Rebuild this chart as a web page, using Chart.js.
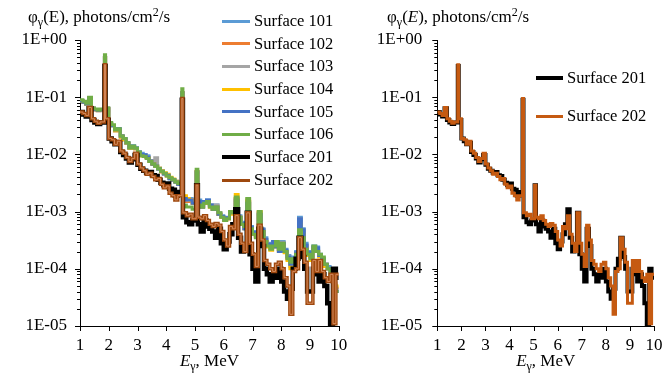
<!DOCTYPE html>
<html><head><meta charset="utf-8">
<script src="https://cdn.jsdelivr.net/npm/chart.js@4"></script>
<style>
html,body{margin:0;padding:0;background:#fff;overflow:hidden;}
body{width:662px;height:373px;position:relative;overflow:hidden;font-family:"Liberation Serif","Times New Roman",serif;color:#000;}
canvas{position:absolute;top:0;}
#c1{left:0;width:364px;height:373px;}
#c2{left:345px;width:345px;height:373px;}
.t{position:absolute;font-size:17px;white-space:nowrap;line-height:17px;}
.sb{font-size:12px;position:relative;top:4px;}
.sp{font-size:12px;position:relative;top:-6px;}
.lgt{position:absolute;font-size:16.5px;white-space:nowrap;line-height:16px;}
.lgl{position:absolute;}
</style></head>
<body>
<canvas id="c1" width="364" height="373"></canvas>
<canvas id="c2" width="345" height="373"></canvas>
<div class="t" style="left:28px;top:8px;">φ<span class="sb">γ</span>(E), photons/cm<span class="sp">2</span>/s</div>
<div class="t" style="left:387px;top:8px;">φ<span class="sb">γ</span>(<i>E</i>), photons/cm<span class="sp">2</span>/s</div>
<div class="t" id="xt1" style="top:352px;"><i>E</i><span class="sb">γ</span>, MeV</div>
<div class="t" id="xt2" style="top:352px;"><i>E</i><span class="sb">γ</span>, MeV</div>
<script>
// ---- data ----  (bin start energies, MeV; narrow bins hold the line peaks)
const energy = [1.0,1.1,1.2,1.3,1.4,1.5,1.6,1.7,1.85,1.89,
2.0,2.1,2.2,2.3,2.4,2.5,2.6,2.7,2.8,2.9,
3.0,3.1,3.2,3.3,3.4,3.5,3.6,3.7,3.8,3.9,
4.0,4.1,4.2,4.3,4.4,4.54,4.58,4.7,4.8,4.9,
5.04,5.1,5.2,5.3,5.4,5.5,5.6,5.7,5.8,5.9,
6.0,6.1,6.2,6.3,6.4,6.5,6.6,6.7,6.8,6.9,
7.0,7.1,7.2,7.3,7.4,7.5,7.6,7.7,7.8,7.9,
8.0,8.1,8.2,8.3,8.4,8.5,8.6,8.7,8.8,8.9,
9.0,9.1,9.2,9.3,9.4,9.5,9.6,9.7,9.8,9.9];
const energyEnd = 10.0;

const s101 = [0.088,0.083,0.076,0.098,0.064,0.061,0.059,0.061,0.5,0.064,
0.035,0.032,0.027,0.028,0.021,0.019,0.016,0.013,0.014,0.013,
0.011,0.0105,0.01,0.0095,0.0078,0.0068,0.0064,0.0055,0.0052,0.0045,
0.0044,0.0037,0.0036,0.0034,0.003,0.12,0.0018,0.0016,0.0017,0.0015,
0.0048,0.0016,0.0013,0.0015,0.0016,0.0013,0.0011,0.0013,0.0009,0.00085,
0.00075,0.0008,0.00095,0.001,0.0016,0.00085,0.00065,0.0005,0.0014,0.00055,
0.00045,0.0004,0.0009,0.0005,0.00035,0.00028,0.00026,0.0003,0.00025,0.00022,
0.0003,0.00022,0.00017,0.00012,0.00016,0.0002,0.0008,0.0005,0.00028,0.0002,
0.00017,0.00025,0.00024,0.00018,0.00015,0.00012,0.00011,0.00009,0.00006,0.000045];
const s102 = [0.087,0.082,0.075,0.097,0.063,0.06,0.058,0.06,0.5,0.063,
0.035,0.032,0.026,0.027,0.021,0.018,0.0155,0.013,0.0135,0.0125,
0.0105,0.0095,0.0095,0.0088,0.0075,0.0067,0.0062,0.0056,0.0049,0.0046,
0.0042,0.0038,0.0035,0.0033,0.003,0.12,0.0017,0.0015,0.0016,0.0014,
0.005,0.0015,0.0012,0.0014,0.0015,0.0012,0.0011,0.0012,0.0009,0.0008,
0.0007,0.00075,0.00095,0.00095,0.0017,0.0008,0.0006,0.00052,0.0015,0.0005,
0.0004,0.00036,0.00095,0.00045,0.0003,0.00026,0.00023,0.00026,0.00028,0.00021,
0.00027,0.0002,0.00015,0.00012,0.00015,0.00018,0.00065,0.0004,0.00024,0.00018,
0.00015,0.00023,0.0002,0.00017,0.00015,0.00012,0.0001,0.00008,0.000055,0.000046];
const s103 = [0.086,0.081,0.075,0.096,0.063,0.06,0.058,0.06,0.5,0.063,
0.034,0.031,0.026,0.027,0.02,0.018,0.0155,0.0128,0.0135,0.0125,
0.0105,0.0098,0.0097,0.009,0.0078,0.0072,0.0087,0.0058,0.005,0.0046,
0.0043,0.0038,0.0035,0.0033,0.003,0.12,0.0018,0.0016,0.0016,0.0015,
0.005,0.0015,0.0012,0.0014,0.0015,0.0013,0.0011,0.0013,0.00095,0.0008,
0.00072,0.00078,0.00095,0.00095,0.0017,0.0008,0.00062,0.0005,0.0015,0.0005,
0.00042,0.00038,0.00095,0.00048,0.00032,0.00026,0.00024,0.00028,0.00026,0.00022,
0.00029,0.0002,0.00016,0.00011,0.00015,0.00019,0.00075,0.00045,0.00025,0.00018,
0.00016,0.00024,0.00021,0.00017,0.00014,0.00011,0.0001,0.00008,0.00005,0.00004];
const s104 = [0.087,0.082,0.076,0.097,0.064,0.061,0.059,0.061,0.5,0.064,
0.035,0.032,0.026,0.027,0.02,0.018,0.0158,0.013,0.0135,0.0125,
0.0105,0.0095,0.0093,0.0088,0.0076,0.0069,0.0063,0.0057,0.0052,0.0048,
0.0045,0.004,0.0037,0.0034,0.0031,0.12,0.0019,0.0017,0.0016,0.0014,
0.005,0.0015,0.0012,0.0014,0.0015,0.0012,0.0011,0.0012,0.0009,0.0008,
0.0007,0.00075,0.001,0.0009,0.002,0.0008,0.0006,0.0005,0.0016,0.0005,
0.0004,0.00036,0.001,0.00045,0.0003,0.00024,0.00021,0.00024,0.00028,0.0002,
0.00026,0.00019,0.00014,0.0001,0.00014,0.00017,0.0006,0.0004,0.00023,0.00017,
0.00014,0.00022,0.0002,0.00016,0.00014,0.00011,0.0001,0.00008,0.00005,0.00005];
const s105 = [0.087,0.082,0.076,0.097,0.064,0.061,0.059,0.061,0.5,0.064,
0.035,0.032,0.027,0.028,0.021,0.019,0.016,0.0132,0.014,0.013,
0.011,0.01,0.0098,0.009,0.0077,0.0068,0.0063,0.0056,0.0051,0.0046,
0.0043,0.0038,0.0036,0.0033,0.003,0.12,0.0017,0.0016,0.0016,0.0014,
0.0049,0.0015,0.0012,0.0015,0.0016,0.0013,0.0011,0.0012,0.0009,0.00082,
0.00072,0.00078,0.00095,0.00098,0.0016,0.0008,0.00062,0.0005,0.0014,0.00052,
0.00043,0.00038,0.0009,0.00048,0.00033,0.00027,0.00025,0.0003,0.00024,0.0002,
0.00028,0.00021,0.00016,0.00012,0.00015,0.00019,0.00075,0.00048,0.00026,0.00019,
0.00016,0.00024,0.00023,0.00017,0.00015,0.00012,0.0001,0.00008,0.00005,0.00004];
const s106 = [0.09,0.085,0.078,0.1,0.065,0.062,0.06,0.062,0.55,0.065,
0.036,0.033,0.027,0.028,0.021,0.019,0.016,0.013,0.014,0.013,
0.011,0.0095,0.0092,0.0085,0.0075,0.0068,0.0062,0.0056,0.005,0.0047,
0.0042,0.0039,0.0036,0.0033,0.0031,0.14,0.0013,0.0012,0.0012,0.0011,
0.0055,0.0013,0.0012,0.0014,0.0015,0.0012,0.0011,0.0012,0.00095,0.0008,
0.0007,0.00075,0.001,0.00095,0.0018,0.0008,0.0006,0.00055,0.0017,0.0005,
0.0004,0.00035,0.001,0.00045,0.0003,0.00025,0.00022,0.00025,0.0003,0.00022,
0.00028,0.0002,0.00015,0.00013,0.00015,0.00018,0.00048,0.00035,0.00022,0.00018,
0.00015,0.00025,0.0002,0.00018,0.00016,0.00012,0.0001,0.00008,0.00005,0.00004];
const s201 = [0.055,0.05,0.046,0.064,0.04,0.036,0.034,0.036,0.35,0.04,
0.019,0.017,0.015,0.016,0.011,0.0098,0.0085,0.0072,0.0082,0.0098,
0.0066,0.0056,0.0052,0.0048,0.0049,0.0043,0.0042,0.0036,0.0032,0.0029,
0.0031,0.0025,0.0024,0.0019,0.0022,0.09,0.0008,0.00065,0.0006,0.0007,
0.0029,0.0006,0.00045,0.0007,0.00055,0.0005,0.00045,0.00035,0.0005,0.00028,
0.00022,0.0003,0.0004,0.0006,0.0011,0.00035,0.0002,0.00025,0.00095,0.00018,
0.0001,0.00006,0.0005,0.00025,0.0001,0.00008,0.00006,0.00008,0.00007,0.0001,
0.00006,0.00004,0.00003,0.000045,0.0001,0.00015,0.00035,0.00016,0.0001,0.00004,
0.00004,0.0001,0.00008,0.00006,0.00008,0.00005,0.000025,0.000009,0.0001,0.00007];
const s202 = [0.055,0.052,0.048,0.066,0.042,0.038,0.035,0.037,0.37,0.042,
0.019,0.018,0.015,0.017,0.0115,0.0105,0.0088,0.0075,0.0085,0.0105,
0.0068,0.0058,0.0052,0.0045,0.0047,0.0041,0.0036,0.0038,0.003,0.0026,
0.0028,0.0021,0.0019,0.0016,0.0019,0.095,0.00095,0.00085,0.0009,0.00075,
0.0029,0.0008,0.00075,0.00085,0.0007,0.0006,0.00055,0.00062,0.00058,0.00045,
0.00032,0.00025,0.00055,0.0005,0.00085,0.0004,0.00028,0.0002,0.00095,0.00028,
0.00018,0.00011,0.00058,0.00032,0.00014,0.00012,0.0001,0.00009,0.00012,0.00013,
0.0001,0.00007,0.00005,0.000016,0.00009,0.0001,0.00035,0.00022,0.00013,0.000025,
0.000025,0.00014,0.00009,0.00014,0.00009,0.00007,0.00006,0.00008,0.000011,0.00008];

const xTickValues = [1,2,3,4,5,6,7,8,9,10];
const yTickValues = [1e-5,1e-4,1e-3,1e-2,1e-1,1];
const yTickLabels = ['1E-05','1E-04','1E-03','1E-02','1E-01','1E+00'];
const leftNames = ['Surface 101','Surface 102','Surface 103','Surface 104','Surface 105','Surface 106','Surface 201','Surface 202'];
const rightNames = ['Surface 201','Surface 202'];

// ---- helpers ----
function pts(vals){
  const p = energy.map((e,i)=>({x:e,y:vals[i]}));
  p.push({x:energyEnd,y:vals[vals.length-1]});
  return p;
}
function ds(vals,color,width,order){
  return {data:pts(vals),borderColor:color,borderWidth:width,stepped:true,pointRadius:0,
          fill:false,order:order,borderJoinStyle:'miter',borderCapStyle:'butt'};
}
const FONT = {family:'"Liberation Serif","Times New Roman",serif',size:17};

const tickPlugin = {
  id:'axTicks',
  afterDraw(chart){
    const {ctx, chartArea:a, scales:{x,y}} = chart;
    ctx.save();
    ctx.strokeStyle='#000'; ctx.lineWidth=1;
    ctx.beginPath();
    for(let k=-5;k<=0;k++){
      for(let m=1;m<=9;m++){
        const v = m*Math.pow(10,k);
        if(v>1.0000001) break;
        const py = Math.round(y.getPixelForValue(v))+0.5;
        const len = m===1?5:3;
        ctx.moveTo(a.left-len,py); ctx.lineTo(a.left,py);
      }
    }
    xTickValues.forEach(v=>{
      const px = Math.round(x.getPixelForValue(v))+0.5;
      ctx.moveTo(px,a.bottom); ctx.lineTo(px,a.bottom+5);
    });
    ctx.stroke();
    ctx.restore();
  }
};

function makeChart(id, datasets, yWidth, padRight, yPad){
  return new Chart(document.getElementById(id),{
    type:'line',
    data:{datasets},
    options:{
      responsive:false, animation:false, devicePixelRatio:1,
      layout:{padding:{top:40,right:padRight,left:0,bottom:0}},
      plugins:{legend:{display:false},tooltip:{enabled:false}},
      scales:{
        x:{type:'linear',min:1,max:10,
           afterFit(s){s.height=47;},
           afterBuildTicks(s){s.ticks = xTickValues.map(v=>({value:v}));},
           grid:{display:true,drawOnChartArea:false,drawTicks:false},
           border:{display:true,color:'#000',width:1},
           ticks:{padding:9,color:'#000',font:FONT,autoSkip:false,maxRotation:0,callback:(v)=>String(v)}},
        y:{type:'logarithmic',min:1e-5,max:1,
           afterFit(s){s.width=yWidth;},
           afterBuildTicks(s){s.ticks = yTickValues.map(v=>({value:v}));},
           grid:{display:true,drawOnChartArea:false,drawTicks:false},
           border:{display:true,color:'#000',width:1},
           ticks:{padding:yPad,color:'#000',font:FONT,autoSkip:false,callback:(v,i)=>yTickLabels[i]}}
      }
    },
    plugins:[tickPlugin]
  });
}

const leftColors = ['#5B9BD5','#ED7D31','#A5A5A5','#FFC000','#4472C4','#70AD47','#000000','#9E480E'];
const leftWidths = [3,3,3,3,3,3,4.5,3.5];
const leftSeries = [s101,s102,s103,s104,s105,s106,s201,s202];

const leftDs = leftSeries.map((s,i)=>ds(s,leftColors[i],leftWidths[i],9-i));
leftDs.push(ds(s202,'#D58A5C',1,0)); // light core of the compound 202 line

const c1 = makeChart('c1', leftDs, 80, 25.25, 13);
const c2 = makeChart('c2', [ds(s201,'#000000',4,2), ds(s202,'#C55A11',3,1)], 92.3, 36, 15);

// ---- legends (html text) ----
function legend(names, colors, widths, x0, lineW, textX, ys){
  names.forEach((n,i)=>{
    const l = document.createElement('div');
    l.className='lgl';
    l.style.left=x0+'px'; l.style.width=lineW+'px';
    l.style.top=(ys[i]-widths[i]/2)+'px'; l.style.height=widths[i]+'px';
    l.style.background=colors[i];
    document.body.appendChild(l);
    const t = document.createElement('div');
    t.className='lgt'; t.textContent=n;
    t.style.left=textX+'px'; t.style.top=(ys[i]-8)+'px';
    document.body.appendChild(t);
  });
}
legend(leftNames, leftColors, [3,3,3,3,3,3,4,3], 222, 28, 254,
  [21,43.5,66,89,111.5,134,157,180]);
legend(rightNames, ['#000000','#C55A11'], [4,3], 536, 27, 567, [78,116]);

// x axis titles centred under plot areas
function centerTitle(id, chart, canvasLeft){
  const el=document.getElementById(id);
  const a=chart.chartArea;
  el.style.left=(canvasLeft+(a.left+a.right)/2-el.offsetWidth/2)+'px';
}
centerTitle('xt1',c1,0);
centerTitle('xt2',c2,345);
</script>
</body></html>
